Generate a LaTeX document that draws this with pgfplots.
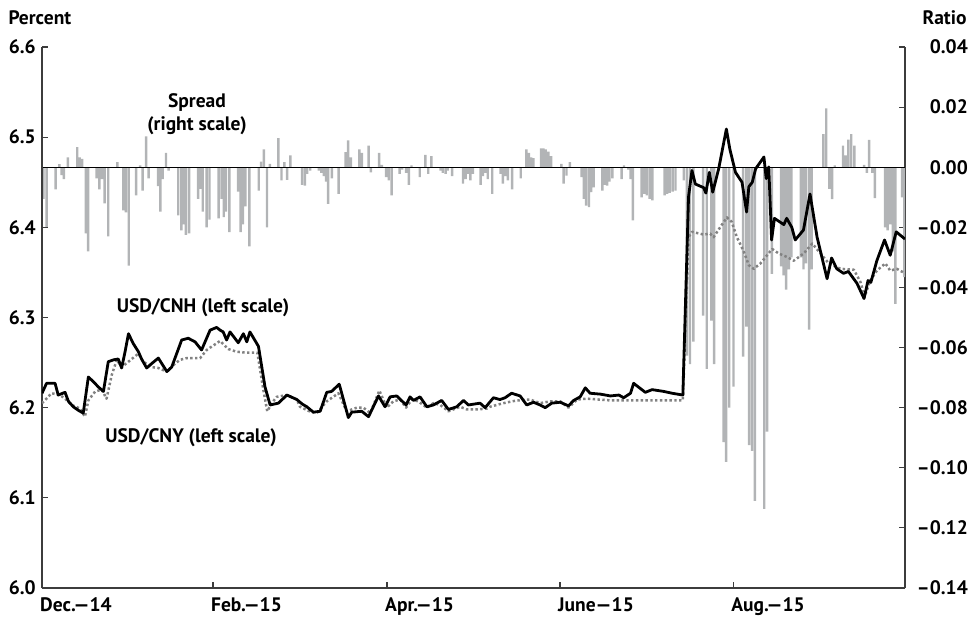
\documentclass[border=0pt]{standalone}
\usepackage{fontspec}
\setmainfont{PT Sans}
\usepackage{pgfplots}
\usepackage{pgfplotstable}
\pgfplotsset{compat=1.18}
\definecolor{bargray}{RGB}{178,180,182}
\definecolor{dotgray}{RGB}{130,130,130}
\definecolor{spine}{RGB}{60,60,60}
\newcommand\lblfont{\fontsize{19.5bp}{23bp}\selectfont\bfseries}

\pgfplotstableread{
d r
0.5 -0.0105
1.6 -0.020
4.8 -0.0074
6.1 0.001
6.9 -0.0026
7.7 -0.004
9.1 0.0033
12.4 0.0067
13.2 0.0033
14.1 0.0028
15.4 -0.022
16.2 -0.028
19.2 -0.0037
20.2 -0.0074
21.1 -0.004
22.0 -0.012
23.3 -0.023
26.5 0.0017
28.6 -0.0144
29.5 -0.015
30.5 -0.0327
33.1 -0.0094
34.5 0.0006
35.4 -0.0078
36.6 0.0103
37.5 -0.0037
40.8 -0.0063
41.6 -0.0148
42.4 -0.004
43.6 0.0048
44.5 -0.0011
47.9 -0.016
49.0 -0.021
49.8 -0.019
50.6 -0.0225
51.7 -0.022
54.9 -0.0105
55.7 -0.0072
56.5 -0.0148
57.9 -0.020
58.9 -0.0174
62.1 -0.017
63.1 -0.0105
63.9 -0.0166
64.7 -0.0148
65.9 -0.0216
68.9 -0.0081
69.8 -0.0216
70.6 -0.019
71.5 -0.013
72.9 -0.0263
76.2 -0.0078
77.0 0.0019
78.0 0.0059
79.1 -0.020
80.1 0.0011
83.1 0.0097
84.2 -0.0044
85.2 0.0017
86.2 -0.0042
87.3 0.0039
91.4 -0.0059
92.4 -0.0061
93.2 -0.0022
94.3 -0.0011
97.3 -0.0011
98.2 -0.0019
99.1 -0.003
99.9 -0.0048
100.6 -0.0122
101.9 -0.0037
104.3 -0.0089
106.7 0.005
107.6 0.0089
108.6 0.0033
111.6 0.0059
112.5 0.0048
114.8 0.0072
115.6 -0.0017
118.5 0.0048
119.5 0.0008
121.0 -0.0033
121.9 -0.0044
122.9 -0.0094
125.7 -0.0022
126.6 -0.0008
128.0 -0.0019
129.0 -0.0059
129.9 0.0006
132.8 -0.0033
134.8 0.0041
135.8 -0.0022
136.9 0.0037
140.1 -0.0011
140.9 -0.0019
141.9 -0.0022
142.6 -0.0011
144.2 -0.003
148.0 -0.0055
148.9 -0.004
149.8 -0.0022
150.6 -0.0044
151.5 -0.0022
154.2 -0.0059
155.0 -0.003
155.9 -0.0019
156.7 -0.004
158.3 -0.0089
161.2 -0.0022
162.0 -0.0055
163.0 -0.003
163.8 -0.0044
165.3 -0.0074
168.3 -0.0037
170.3 0.0059
171.2 0.0048
172.0 0.0033
172.8 0.003
175.5 0.0063
176.3 0.0063
177.1 0.0059
178.0 0.0052
179.0 0.0037
182.6 0.0011
183.4 -0.0055
184.4 -0.0028
185.6 0.0017
189.7 -0.0033
190.5 -0.0105
191.3 -0.0128
192.3 -0.0133
193.1 -0.0083
193.9 -0.0067
197.0 -0.0078
197.8 -0.0059
198.7 -0.0061
199.5 -0.0048
200.5 -0.0037
203.8 -0.004
204.6 0.0006
206.1 -0.0008
206.9 -0.004
207.7 -0.0177
210.8 -0.010
211.7 -0.0089
212.6 -0.0094
213.6 -0.0105
214.6 -0.011
218.9 -0.0094
219.8 -0.0089
220.7 -0.0085
221.7 -0.0081
222.7 -0.0078
225.6 -0.0044
226.7 -0.0627
227.8 -0.0655
229.0 -0.058
232.4 -0.0494
233.7 -0.0671
235.3 -0.051
236.3 -0.0655
239.6 -0.0915
240.5 -0.098
241.6 -0.080
243.1 -0.073
246.5 -0.063
247.6 -0.053
248.6 -0.0925
249.6 -0.0944
250.6 -0.111
253.9 -0.1137
254.9 -0.088
256.6 -0.0355
259.8 -0.033
260.7 -0.036
261.6 -0.0407
262.6 -0.034
263.5 -0.030
266.8 -0.030
267.7 -0.034
268.6 -0.032
269.7 -0.054
270.6 -0.034
274.7 0.011
275.7 0.0196
276.8 -0.0072
277.8 -0.0106
278.7 0.0006
281.6 0.0072
282.5 0.0039
283.5 0.0092
284.5 0.011
285.6 0.0072
289.0 0.0008
290.0 -0.0019
290.8 0.0091
291.9 -0.0019
292.8 -0.0103
296.4 -0.020
297.3 -0.021
298.2 -0.019
299.1 -0.028
300.0 -0.0455
302.4 -0.010
303.2 -0.0366
}\spread

\pgfplotstableread{
d v
0 6.216
1.6 6.227
4.6 6.227
5.7 6.214
8.1 6.217
9.3 6.207
11.0 6.201
12.8 6.197
14.5 6.194
16.3 6.234
18.0 6.229
19.8 6.223
21.6 6.218
23.3 6.251
25.1 6.253
26.8 6.254
28.0 6.244
29.2 6.262
30.4 6.282
32.1 6.271
33.9 6.262
35.0 6.254
36.8 6.244
38.6 6.249
40.9 6.255
42.1 6.249
43.9 6.240
45.6 6.245
49.1 6.275
51.4 6.277
53.8 6.273
56.1 6.264
59.1 6.286
61.4 6.289
62.6 6.286
63.7 6.284
64.9 6.275
66.1 6.284
69.0 6.272
70.8 6.282
72.0 6.273
73.1 6.284
76.1 6.268
78.4 6.223
80.2 6.203
83.1 6.205
86.1 6.214
89.6 6.209
91.5 6.204
93.1 6.201
95.4 6.195
97.8 6.196
100.1 6.217
101.8 6.218
104.5 6.226
107.7 6.189
108.9 6.195
112.4 6.196
114.8 6.190
118.3 6.213
120.6 6.201
122.4 6.212
124.7 6.213
128.0 6.203
129.4 6.212
130.6 6.208
132.9 6.212
135.3 6.201
137.6 6.203
140.5 6.208
142.9 6.198
145.8 6.201
148.2 6.208
149.9 6.203
154.0 6.205
155.8 6.200
158.7 6.211
161.0 6.209
162.8 6.211
165.1 6.216
168.1 6.213
170.4 6.203
172.8 6.206
175.1 6.203
176.9 6.200
179.2 6.205
182.2 6.206
185.1 6.202
186.9 6.208
189.2 6.212
191.0 6.222
192.7 6.216
196.3 6.215
198.1 6.214
199.8 6.213
202.8 6.214
204.5 6.211
206.9 6.216
208.0 6.227
212.1 6.217
214.5 6.220
218.6 6.218
221.5 6.216
225.3 6.214
227.3 6.434
228.5 6.463
229.7 6.448
232.6 6.444
233.4 6.438
234.6 6.461
235.8 6.439
237.9 6.465
240.6 6.509
241.8 6.487
243.8 6.461
246.1 6.450
247.7 6.417
248.5 6.445
249.7 6.450
250.9 6.465
253.8 6.478
254.6 6.454
255.5 6.467
256.5 6.386
257.5 6.410
260.8 6.403
261.8 6.410
263.6 6.400
264.8 6.386
267.7 6.397
270.0 6.437
272.5 6.389
276.0 6.343
277.6 6.366
279.4 6.354
281.8 6.349
283.5 6.351
286.5 6.338
289.0 6.321
290.4 6.341
291.4 6.339
293.5 6.363
296.2 6.386
298.2 6.369
300.3 6.395
303.4 6.387
}\cnh

\pgfplotstableread{
d v
0 6.205
3.4 6.216
6.3 6.214
8.1 6.210
10.4 6.203
13.4 6.199
15.1 6.190
16.3 6.208
18.7 6.218
21.0 6.220
22.7 6.210
24.5 6.236
26.3 6.253
28.0 6.245
30.4 6.251
33.9 6.260
35.6 6.251
38.6 6.245
40.9 6.244
43.9 6.240
46.8 6.249
48.5 6.253
50.9 6.255
55.6 6.255
57.9 6.264
62.6 6.274
65.5 6.265
68.5 6.262
72.0 6.261
75.7 6.261
77.8 6.220
79.2 6.196
80.8 6.205
82.5 6.212
86.1 6.214
89.6 6.209
90.7 6.201
94.0 6.196
96.6 6.194
100.1 6.207
104.2 6.216
107.1 6.196
110.7 6.200
113.0 6.200
115.4 6.194
118.6 6.219
121.2 6.200
123.5 6.207
125.9 6.209
128.0 6.200
130.0 6.209
132.3 6.207
135.3 6.200
137.6 6.205
140.0 6.203
142.9 6.196
147.0 6.201
149.4 6.198
152.8 6.198
156.4 6.199
157.5 6.201
162.2 6.205
166.9 6.208
171.6 6.209
175.1 6.205
178.7 6.207
182.2 6.207
185.1 6.200
188.1 6.209
191.6 6.210
200.0 6.208
210.0 6.208
225.3 6.208
227.3 6.389
228.5 6.395
232.6 6.392
234.9 6.393
236.1 6.389
238.4 6.400
240.8 6.411
242.5 6.406
244.3 6.389
246.6 6.374
248.5 6.358
250.2 6.354
252.6 6.360
254.9 6.369
256.7 6.376
259.0 6.371
262.0 6.367
264.3 6.363
267.8 6.371
270.8 6.382
273.7 6.371
276.6 6.360
280.7 6.354
285.4 6.353
287.8 6.339
289.2 6.323
291.2 6.341
293.5 6.352
296.5 6.360
298.2 6.352
300.5 6.354
303.4 6.349
}\cny

\begin{document}
\begin{tikzpicture}
\path[use as bounding box] (-42bp,-35bp) rectangle (935bp,588bp);
\pgfplotsset{
  base/.style={scale only axis, width=863bp, height=541bp, xmin=0, xmax=303.4,
    axis line style={draw=spine, line width=1.3bp, -},
    tick align=inside, major tick length=6bp,
    major tick style={draw=spine, line width=1.2bp},
    tick label style={font=\lblfont, text=black},
  }
}
\begin{axis}[base, ymin=-0.14, ymax=0.04, axis x line=none, axis y line*=right,
  ytick={-0.14,-0.12,-0.10,-0.08,-0.06,-0.04,-0.02,0,0.02,0.04},
  yticklabels={–0.14,–0.12,–0.10,–0.08,–0.06,–0.04,–0.02,0.00,0.02,0.04},
  yticklabel style={anchor=east, inner sep=0pt, xshift=63bp}]
\addplot[ybar, bar width=0.85, bar shift=0pt, fill=bargray, draw=none] table[x=d, y=r] {\spread};
\addplot[black, line width=1.2bp] coordinates {(0,0) (303.4,0)};
\end{axis}
\begin{axis}[base, ymin=6.0, ymax=6.6, axis x line*=bottom, axis y line*=left,
  ytick={6.0,6.1,6.2,6.3,6.4,6.5,6.6},
  yticklabels={6.0,6.1,6.2,6.3,6.4,6.5,6.6},
  yticklabel style={anchor=east, inner sep=0pt, xshift=-6bp},
  xtick={0,60.1,121.3,182.1,243},
  xticklabels={Dec.—14,Feb.—15,Apr.—15,June—15,Aug.—15},
  xticklabel style={anchor=north west, inner sep=0pt, yshift=-9bp, xshift=-2bp}]
\addplot[dotgray, line width=2.5bp, dash pattern=on 2.4bp off 2.4bp, line join=round] table[x=d, y=v] {\cny};
\addplot[black, line width=2.8bp, line join=round] table[x=d, y=v] {\cnh};
\node[font=\lblfont, align=center] at (axis cs:54.5,6.525) {Spread\\(right scale)};
\node[font=\lblfont] at (axis cs:56.6,6.311) {USD/CNH (left scale)};
\node[font=\lblfont] at (axis cs:52.4,6.167) {USD/CNY (left scale)};
\end{axis}
\node[anchor=west, font=\lblfont] at (-37bp,570bp) {Percent};
\node[anchor=east, font=\lblfont] at (928bp,570bp) {Ratio};
\end{tikzpicture}
\end{document}
